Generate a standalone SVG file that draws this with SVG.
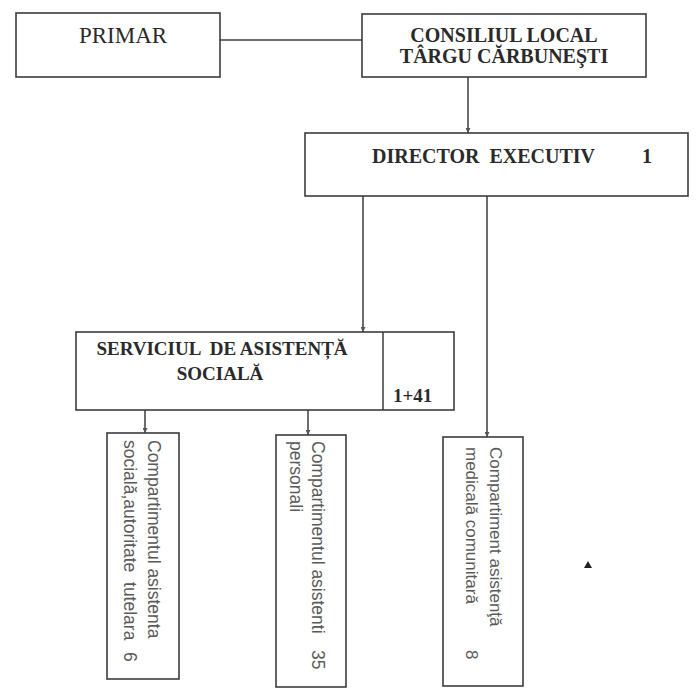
<svg xmlns="http://www.w3.org/2000/svg" width="696" height="692" viewBox="0 0 696 692">
<style>
.box{fill:none;stroke:#3c3c3c;stroke-width:1.6}
.ln{fill:none;stroke:#3c3c3c;stroke-width:1.5}
.t{font-family:"Liberation Serif","Times New Roman",serif;font-weight:bold;font-size:20px;fill:#2a2a2a}
.v{font-family:"Liberation Sans",Arial,sans-serif;font-size:17px;fill:#5a5a5a}
.v2{font-size:17.5px}
</style>
<defs>
<marker id="ah" viewBox="0 0 10 10" refX="10" refY="5" markerWidth="5" markerHeight="5" orient="auto" markerUnits="userSpaceOnUse">
<path d="M0,0 L10,5 L0,10 z" fill="#555"/>
</marker>
</defs>
<rect width="696" height="692" fill="#ffffff"/>
<g id="connectors">
<line class="ln" x1="220" y1="40" x2="362" y2="40"/>
<line class="ln" x1="468" y1="77" x2="468" y2="133" marker-end="url(#ah)"/>
<line class="ln" x1="363" y1="196" x2="363" y2="332" marker-end="url(#ah)"/>
<line class="ln" x1="487" y1="196" x2="487" y2="437" marker-end="url(#ah)"/>
<line class="ln" x1="145" y1="410" x2="145" y2="433" marker-end="url(#ah)"/>
<line class="ln" x1="308" y1="410" x2="308" y2="435" marker-end="url(#ah)"/>
</g>
<g id="primar">
<rect class="box" x="16" y="13" width="204" height="64"/>
<text class="t" x="123" y="43" text-anchor="middle" style="font-weight:normal;font-size:23px">PRIMAR</text>
</g>
<g id="consiliul">
<rect class="box" x="362" y="14" width="284" height="63"/>
<text class="t" x="504" y="42" text-anchor="middle">CONSILIUL LOCAL</text>
<text class="t" x="504" y="63" text-anchor="middle">TÂRGU CĂRBUNEŞTI</text>
</g>
<g id="director">
<rect class="box" x="305" y="133" width="383" height="63"/>
<text class="t" x="372" y="163" xml:space="preserve">DIRECTOR  EXECUTIV</text>
<text class="t" x="642" y="163">1</text>
</g>
<g id="serviciul">
<rect class="box" x="76" y="332" width="378" height="78"/>
<line class="ln" x1="383" y1="332" x2="383" y2="410"/>
<text class="t" x="222" y="355" text-anchor="middle" style="font-size:19px" xml:space="preserve">SERVICIUL  DE ASISTENȚĂ</text>
<text class="t" x="220" y="380" text-anchor="middle" style="font-size:19px">SOCIALĂ</text>
<text class="t" x="393" y="402" style="font-size:19px">1+41</text>
</g>
<g id="comp-autoritate">
<rect class="box" x="107" y="433" width="72" height="246"/>
<text class="v v2" transform="translate(148,440) rotate(90)">Compartimentul asistenta</text>
<text class="v v2" transform="translate(124,440) rotate(90)" xml:space="preserve">socială,autoritate  tutelara</text>
<text class="v v2" transform="translate(124,652) rotate(90)">6</text>
</g>
<g id="comp-asistenti">
<rect class="box" x="276" y="435" width="70" height="252"/>
<text class="v v2" transform="translate(312,441) rotate(90)">Compartimentul asistenti</text>
<text class="v v2" transform="translate(290,441) rotate(90)">personali</text>
<text class="v v2" transform="translate(312,650) rotate(90)">35</text>
</g>
<g id="comp-medicala">
<rect class="box" x="443" y="437" width="80" height="249"/>
<text class="v" transform="translate(490,447) rotate(90)">Compartiment asistenţă</text>
<text class="v" transform="translate(466,447) rotate(90)">medicală comunitară</text>
<text class="v" transform="translate(466,650) rotate(90)">8</text>
</g>
<polygon points="588,561 592,568 584,568" fill="#222"/>
</svg>
